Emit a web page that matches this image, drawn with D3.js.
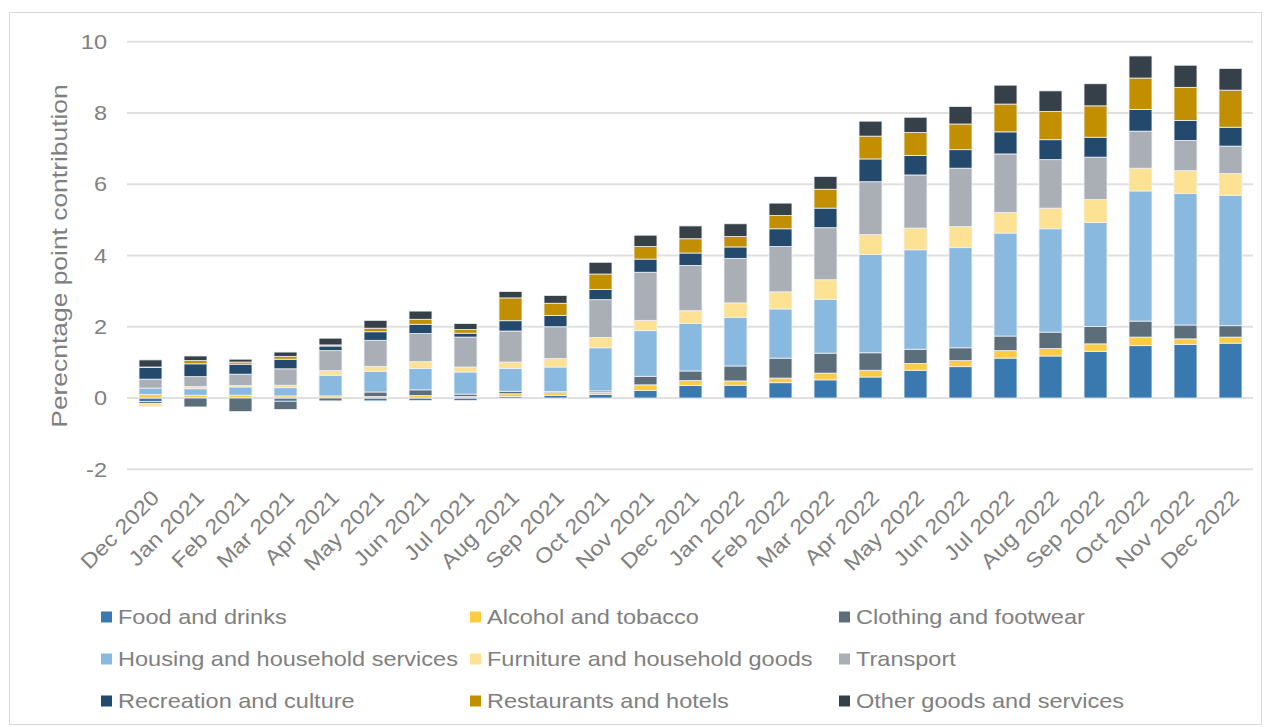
<!DOCTYPE html>
<html><head><meta charset="utf-8">
<script src="https://cdn.jsdelivr.net/npm/d3@7"></script>
<style>
html,body{margin:0;padding:0;background:#fff;}
svg{display:block;font-family:"Liberation Sans",Arial,sans-serif;}
</style></head>
<body>
<svg id="chart" width="1270" height="727"></svg>
<script>
const months = ["Dec 2020","Jan 2021","Feb 2021","Mar 2021","Apr 2021","May 2021","Jun 2021","Jul 2021","Aug 2021","Sep 2021","Oct 2021","Nov 2021","Dec 2021","Jan 2022","Feb 2022","Mar 2022","Apr 2022","May 2022","Jun 2022","Jul 2022","Aug 2022","Sep 2022","Oct 2022","Nov 2022","Dec 2022"];
const seriesNames = ["Food and drinks","Alcohol and tobacco","Clothing and footwear","Housing and household services","Furniture and household goods","Transport","Recreation and culture","Restaurants and hotels","Other goods and services"];
const seriesColors = ["#3a78b0","#fdcb44","#5b6e79","#89b9de","#fee294","#a9afb5","#234a6c","#c18f00","#364048"];
const food        = [-0.10,0.00,0.00,-0.09,0.00,-0.08,-0.07,-0.07,0.04,0.07,0.10,0.21,0.35,0.36,0.43,0.51,0.59,0.78,0.88,1.12,1.18,1.31,1.47,1.50,1.54];
const alcohol     = [0.10,0.08,0.08,0.06,0.06,0.04,0.07,0.04,0.08,0.08,0.06,0.16,0.14,0.12,0.13,0.19,0.19,0.19,0.17,0.21,0.21,0.21,0.24,0.16,0.17];
const clothing    = [-0.05,-0.25,-0.38,-0.23,-0.08,0.13,0.16,0.07,0.07,0.03,0.04,0.24,0.27,0.42,0.56,0.56,0.49,0.40,0.36,0.41,0.46,0.49,0.45,0.39,0.32];
const housing     = [0.18,0.18,0.23,0.23,0.58,0.58,0.60,0.62,0.64,0.69,1.21,1.28,1.33,1.36,1.38,1.51,2.76,2.79,2.81,2.89,2.90,2.92,3.65,3.69,3.66];
const furniture   = [-0.09,0.06,0.04,0.07,0.13,0.14,0.19,0.14,0.18,0.24,0.29,0.29,0.36,0.41,0.48,0.55,0.56,0.61,0.59,0.58,0.58,0.64,0.64,0.64,0.61];
const transport   = [0.25,0.28,0.32,0.46,0.56,0.73,0.79,0.84,0.87,0.89,1.06,1.35,1.27,1.25,1.27,1.46,1.48,1.49,1.64,1.64,1.36,1.19,1.04,0.85,0.77];
const recreation  = [0.33,0.36,0.28,0.27,0.13,0.24,0.26,0.11,0.29,0.32,0.29,0.37,0.35,0.32,0.50,0.55,0.64,0.55,0.52,0.62,0.56,0.56,0.61,0.56,0.53];
const restaurants = [0.01,0.09,0.06,0.08,0.03,0.10,0.14,0.10,0.64,0.34,0.43,0.35,0.40,0.29,0.37,0.53,0.64,0.64,0.72,0.78,0.79,0.88,0.88,0.93,1.04];
const other       = [0.20,0.13,0.08,0.12,0.19,0.22,0.23,0.17,0.18,0.22,0.33,0.32,0.36,0.36,0.35,0.36,0.42,0.43,0.49,0.53,0.58,0.62,0.62,0.62,0.61];
const yTicks = [-2,0,2,4,6,8,10];

const seriesValues = [food,alcohol,clothing,housing,furniture,transport,recreation,restaurants,other];
const rows = months.map((m,i)=>{const r={month:m}; seriesNames.forEach((s,j)=>r[s]=seriesValues[j][i]); return r;});

const TXT = "#808080";
function stretch(k){
  return sel => sel.each(function(){
    const len = this.getComputedTextLength();
    d3.select(this).attr("textLength", len*k).attr("lengthAdjust","spacingAndGlyphs");
  });
}

const svg = d3.select("#chart");
svg.append("rect").attr("x",9.5).attr("y",12.5).attr("width",1252).attr("height",712)
  .attr("fill","none").attr("stroke","#d9d9d9").attr("stroke-width",1);

const x = d3.scaleBand().domain(months).range([128,1253]).paddingInner(0.49).paddingOuter(0.245);
const y = d3.scaleLinear().domain([-2,10]).range([469.3,41.7]);

// gridlines
svg.append("g").selectAll("line").data(yTicks).join("line")
  .attr("x1",127).attr("x2",1253)
  .attr("y1",d=>y(d)).attr("y2",d=>y(d))
  .attr("stroke","#e0e0e0").attr("stroke-width",2);

// y axis labels
const yAxis = d3.axisLeft(y).tickValues(yTicks).tickSize(0).tickPadding(0).tickFormat(d=>String(d));
const gy = svg.append("g").attr("transform","translate(107,0)").call(yAxis);
gy.select(".domain").remove();
gy.selectAll("text").attr("font-size",21).attr("fill",TXT).attr("font-family","Liberation Sans, Arial, sans-serif").call(stretch(1.12));

// y title
svg.append("text").attr("transform","translate(67,256) rotate(-90)")
  .attr("text-anchor","middle").attr("font-size",22).attr("fill",TXT)
  .text("Perecntage point contribution").call(stretch(1.2));

// stacks
const stack = d3.stack().keys(seriesNames).offset(d3.stackOffsetDiverging);
const layers = stack(rows);
svg.append("g").selectAll("g").data(layers).join("g")
  .attr("fill",(d,i)=>seriesColors[i])
  .selectAll("rect").data(d=>d).join("rect")
  .attr("x",d=>x(d.data.month))
  .attr("width",x.bandwidth())
  .attr("y",d=>y(Math.max(d[0],d[1])))
  .attr("height",d=>Math.abs(y(d[0])-y(d[1])))
  .attr("stroke","#eef1f6").attr("stroke-width",0.8);

// x labels
const xAxis = d3.axisBottom(x).tickSize(0).tickPadding(0);
const gx = svg.append("g").attr("transform","translate(0,499)").call(xAxis);
gx.select(".domain").remove();
gx.selectAll("text").attr("font-size",21).attr("fill",TXT)
  .attr("font-family","Liberation Sans, Arial, sans-serif")
  .attr("text-anchor","end").attr("dy",0).attr("y",0)
  .attr("transform","translate(10,0) rotate(-45)").call(stretch(1.12));

// legend
const colX = [101,470,839];
const rowY = [617,659,701];
const leg = svg.append("g").selectAll("g").data(seriesNames).join("g")
  .attr("transform",(d,i)=>`translate(${colX[i%3]},${rowY[Math.floor(i/3)]})`);
leg.append("rect").attr("x",0).attr("y",-5.5).attr("width",11).attr("height",11).attr("fill",(d,i)=>seriesColors[i]);
leg.append("text").attr("x",17).attr("y",0).attr("dy","0.35em").attr("font-size",21).attr("fill",TXT).text(d=>d).call(stretch(1.12));
</script>
</body></html>
